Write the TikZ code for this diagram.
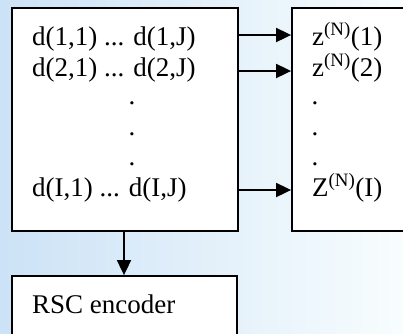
\documentclass[tikz,border=0pt]{standalone}
\usepackage{fontspec}
\setmainfont{Liberation Serif}
\usetikzlibrary{positioning, arrows.meta, calc}
\definecolor{bgleft}{HTML}{CCE2F6}
\definecolor{bgmid}{HTML}{E2F7F9}
\definecolor{bgright}{HTML}{F8FDFE}
\definecolor{ink}{HTML}{000000}

\begin{document}
\begin{tikzpicture}[
  x=1pt, y=-1pt,
  font=\fontsize{27}{32}\selectfont,
  blk/.style={draw=ink, fill=white, line width=1.8pt, inner sep=0pt},
  txt/.style={anchor=base west, inner sep=0pt},
  dot/.style={anchor=base, inner sep=0pt},
  arr/.style={-{Triangle[length=15pt, width=14pt]}, line width=1.8pt, ink}
]
  \useasboundingbox (0,0) rectangle (403,333);
  \clip (0,0) rectangle (403,333);
  \shade[left color=bgleft, middle color=bgmid, right color=bgright] (0,0) rectangle (403,333);

  % boxes
  \node[blk, minimum width=226pt, minimum height=223pt] (mat) at (125,119.5) {};
  \node[blk, minimum width=130pt, minimum height=223pt] (zbox) at (357,119.5) {};
  \node[blk, minimum width=225pt, minimum height=80pt] (rsc) at (124.5,316) {};

  % matrix entries
  \node[txt] (d1) at (32,45) {d(1,1) ... d(1,J)};
  \node[txt] (d2) at (32,76) {d(2,1) ... d(2,J)};
  \node[dot] (dd1) at (132,104) {.};
  \node[dot] (dd2) at (132,135) {.};
  \node[dot] (dd3) at (132,165) {.};
  \node[txt] (dI) at (32,196) {d(I,1) ... d(I,J)};

  % outputs
  \node[txt] (z1) at (312,45) {z\textsuperscript{(N)}(1)};
  \node[txt] (z2) at (312,76) {z\textsuperscript{(N)}(2)};
  \node[dot] (zd1) at (315,104) {.};
  \node[dot] (zd2) at (315,135) {.};
  \node[dot] (zd3) at (315,165) {.};
  \node[txt] (zI) at (312,196) {Z\textsuperscript{(N)}(I)};

  \node[txt] (enc) at (32,313) {RSC encoder};

  % connectors
  \coordinate (a1) at (0,35);
  \coordinate (a2) at (0,71);
  \coordinate (a3) at (0,190);
  \coordinate (a4) at (124,0);
  \draw[arr] ($(a1 -| mat.east)+(-2,0)$) -- (a1 -| zbox.west);
  \draw[arr] ($(a2 -| mat.east)+(-2,0)$) -- (a2 -| zbox.west);
  \draw[arr] (a3 -| mat.east) -- (a3 -| zbox.west);
  \draw[arr] (a4 |- mat.south) -- (a4 |- rsc.north);
\end{tikzpicture}
\end{document}
